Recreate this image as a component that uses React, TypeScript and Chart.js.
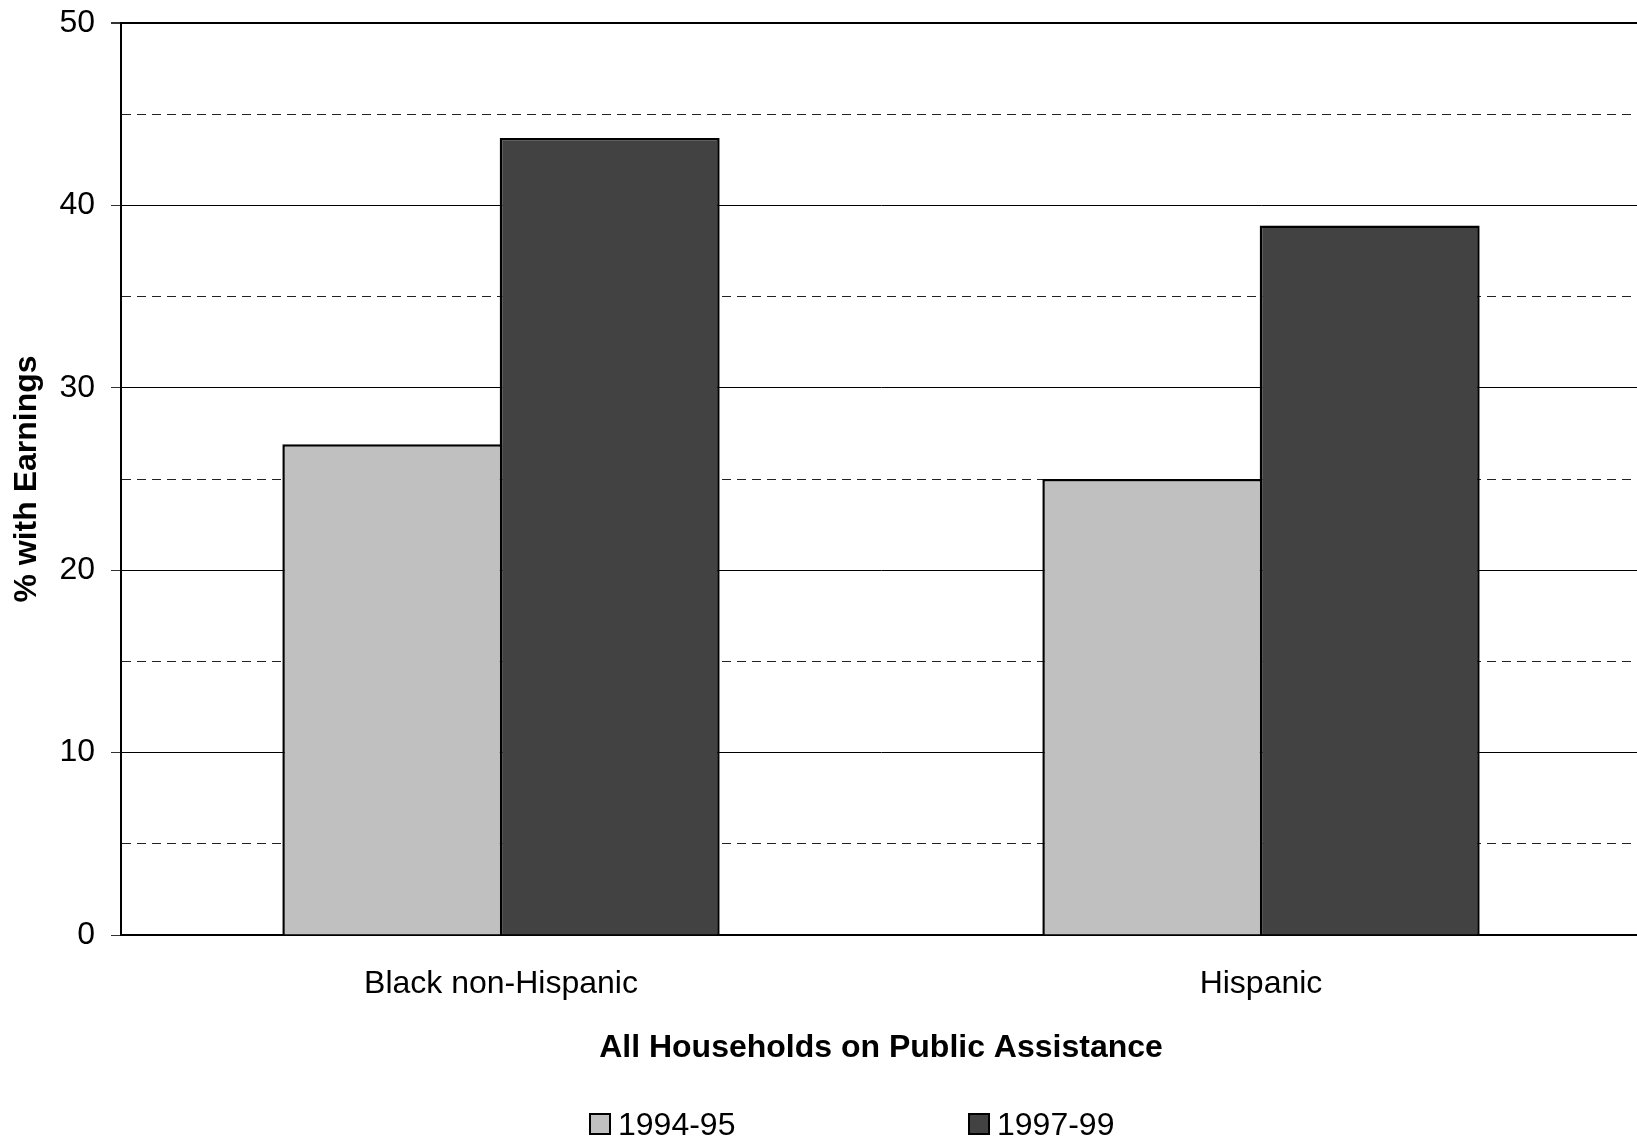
import { useEffect, useRef } from "react";
import { Chart, registerables } from "chart.js";

Chart.register(...registerables);

const categories = ["Black non-Hispanic", "Hispanic"];
const seriesLabels = ["1994-95", "1997-99"];
const series1994 = [26.9, 25.0];
const series1997 = [43.7, 38.9];
const yMin = 0;
const yMax = 50;
const yStep = 5;
const yLabelStep = 10;
const yTitle = "% with Earnings";
const xTitle = "All Households on Public Assistance";
const colors = ["#c0c0c0", "#424242"];

const FONT = '"Liberation Sans", Arial, Helvetica, sans-serif';

export default function App() {
  const canvasRef = useRef<HTMLCanvasElement | null>(null);

  useEffect(() => {
    if (!canvasRef.current) return;
    const isMajor = (v: number) => Math.abs(v % yLabelStep) < 1e-6;
    const chart = new Chart(canvasRef.current, {
      type: "bar",
      data: {
        labels: categories,
        datasets: [
          {
            label: seriesLabels[0],
            data: series1994,
            backgroundColor: colors[0],
            borderColor: "#000",
            borderWidth: 2.5,
            categoryPercentage: 0.572,
            barPercentage: 1.012,
          },
          {
            label: seriesLabels[1],
            data: series1997,
            backgroundColor: colors[1],
            borderColor: "#000",
            borderWidth: 2.5,
            categoryPercentage: 0.572,
            barPercentage: 1.012,
          },
        ],
      },
      options: {
        responsive: true,
        maintainAspectRatio: false,
        animation: false,
        layout: { padding: { top: 23, right: 0, bottom: 0, left: 0 } },
        plugins: {
          legend: { display: false },
          tooltip: { enabled: false },
        },
        scales: {
          x: {
            grid: { display: false, drawTicks: false },
            border: { display: true, color: "#000", width: 2 },
            ticks: {
              padding: 30,
              color: "#000",
              font: { family: FONT, size: 32 },
              maxRotation: 0,
            },
            title: {
              display: true,
              text: xTitle,
              color: "#000",
              font: { family: FONT, size: 32, weight: "bold" },
              padding: { top: 0, bottom: 74 },
            },
            afterFit: (s: any) => {
              s.height = 206;
              s.paddingLeft = 0;
              s.paddingRight = 0;
            },
          },
          y: {
            min: yMin,
            max: yMax,
            afterFit: (s: any) => {
              s.width = 121;
              s.paddingTop = 0;
              s.paddingBottom = 0;
            },
            ticks: {
              stepSize: yStep,
              padding: 16,
              color: "#000",
              autoSkip: false,
              font: { family: FONT, size: 32 },
              callback: (v: any) => (isMajor(Number(v)) ? String(v) : ""),
            },
            grid: {
              color: (ctx: any) => (ctx.tick && isMajor(ctx.tick.value) ? "#000" : "#222"),
              lineWidth: (ctx: any) => (ctx.tick && ctx.tick.value === yMax ? 2 : 1),
              tickLength: 10,
              tickColor: (ctx: any) =>
                ctx.tick && isMajor(ctx.tick.value) ? "#333" : "rgba(0,0,0,0)",
            },
            border: {
              display: true,
              color: "#000",
              width: 2,
              dash: (ctx: any) =>
                ctx.tick && !isMajor(ctx.tick.value) ? [9, 6] : [],
            },
            title: {
              display: true,
              text: yTitle,
              color: "#000",
              font: { family: FONT, size: 32, weight: "bold" },
              padding: { top: 8, bottom: 0 },
            },
          },
        },
      },
    } as any);
    return () => chart.destroy();
  }, []);

  const textBase: any = {
    position: "absolute",
    fontFamily: FONT,
    color: "#000",
    whiteSpace: "nowrap",
    fontSize: 32,
    lineHeight: "38px",
  };
  const boxBase: any = {
    position: "absolute",
    width: 22,
    height: 22,
    border: "2px solid #000",
    boxSizing: "border-box",
  };

  return (
    <div
      style={{
        position: "fixed",
        left: 0,
        top: 0,
        width: 1637,
        height: 1141,
        overflow: "hidden",
        background: "#fff",
      }}
    >
      <div style={{ position: "absolute", left: 0, top: 0, width: 1641, height: 1141 }}>
        <canvas ref={canvasRef} />
      </div>
      <div style={{ ...boxBase, left: 589, top: 1113, background: colors[0] }} />
      <div style={{ ...textBase, left: 618, top: 1105 }}>{seriesLabels[0]}</div>
      <div style={{ ...boxBase, left: 968, top: 1113, background: colors[1] }} />
      <div style={{ ...textBase, left: 997, top: 1105 }}>{seriesLabels[1]}</div>
    </div>
  );
}
